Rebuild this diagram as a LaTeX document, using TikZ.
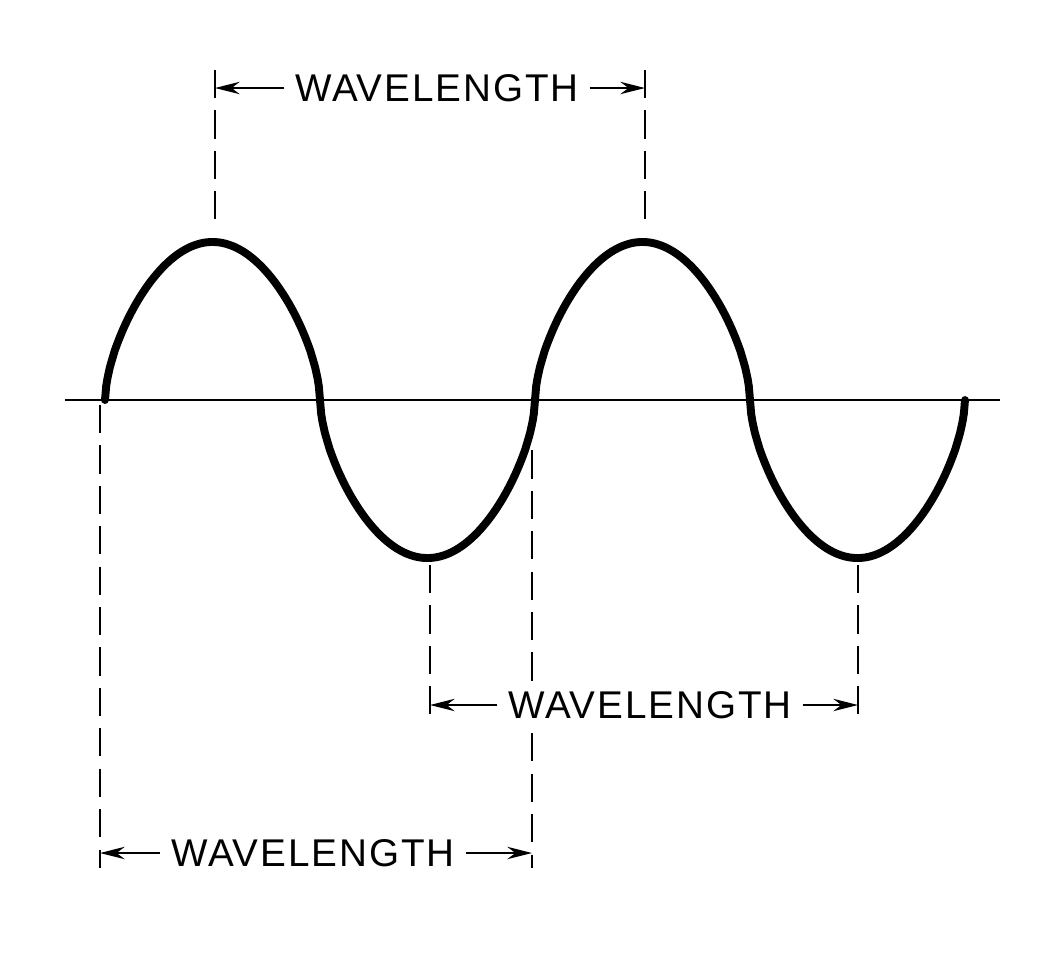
\documentclass[tikz,border=0pt]{standalone}
\usepackage{fontspec}
\setmainfont{Liberation Sans}
\usetikzlibrary{arrows.meta}
\begin{document}
\begin{tikzpicture}[x=0.02cm,y=-0.02cm,
  dim/.style={line width=1.5pt,dash pattern=on 16pt off 7pt},
  arr/.style={line width=1.5pt,-{Stealth[length=14pt,width=7pt]}},
  lbl/.style={fill=white,inner xsep=6pt,font=\fontsize{22}{24}\selectfont\addfontfeature{LetterSpace=5}}]
\useasboundingbox (0,0) rectangle (1056,968);
\draw[line width=1.2pt] (65,400) -- (1000,400);
\draw[line width=4.5pt,line cap=round,line join=round] plot[domain=0:720,samples=721] ({105+1.19444*\x},{400-158*sign(sin(\x))*pow(abs(sin(\x)),0.6)});
% dashed extension lines
\coordinate (t1a) at (215,70); \coordinate (t1b) at (215,230);
\coordinate (t2a) at (645,70); \coordinate (t2b) at (645,230);
\coordinate (m1a) at (430,565); \coordinate (m1b) at (430,715);
\coordinate (m2a) at (858,565); \coordinate (m2b) at (858,715);
\coordinate (b1a) at (100,405); \coordinate (b1b) at (100,868);
\coordinate (b2a) at (532,410); \coordinate (b2b) at (532,868);
\foreach \a/\b in {t1a/t1b,t2a/t2b,m1a/m1b,m2a/m2b,b1a/b1b,b2a/b2b} \draw[dim] (\a)--(\b);
% dimension labels
\node[lbl] (T) at (437,88) {WAVELENGTH};
\coordinate (tl) at (215,88); \coordinate (tr) at (645,88);
\draw[arr] (T.west) -- (tl); \draw[arr] (T.east) -- (tr);
\node[lbl] (M) at (650,705) {WAVELENGTH};
\coordinate (ml) at (430,705); \coordinate (mr) at (858,705);
\draw[arr] (M.west) -- (ml); \draw[arr] (M.east) -- (mr);
\node[lbl] (B) at (313,853) {WAVELENGTH};
\coordinate (bl) at (100,853); \coordinate (br) at (532,853);
\draw[arr] (B.west) -- (bl); \draw[arr] (B.east) -- (br);
\end{tikzpicture}
\end{document}
